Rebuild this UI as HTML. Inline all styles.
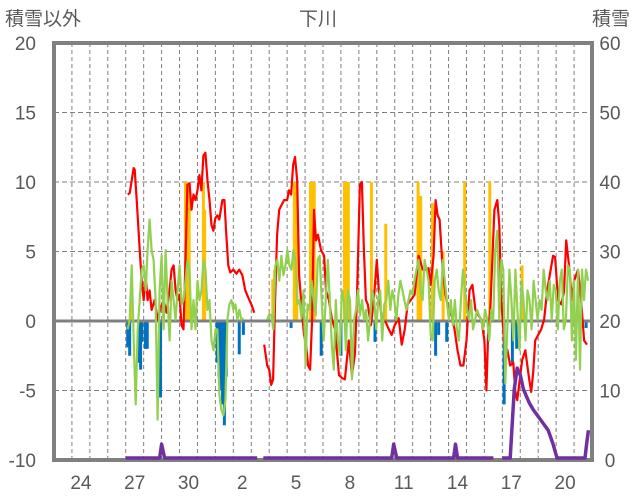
<!DOCTYPE html>
<html><head><meta charset="utf-8">
<style>
html,body{margin:0;padding:0;background:#fff;}
svg{display:block;font-family:"Liberation Sans","Noto Sans CJK JP",sans-serif;}
</style></head>
<body>
<svg id="chart" width="636" height="501" viewBox="0 0 636 501" xmlns="http://www.w3.org/2000/svg">
<text x="5" y="25" font-size="19" fill="#595959">積雪以外</text>
<text x="318" y="25" font-size="19" fill="#595959" text-anchor="middle">下川</text>
<text x="630" y="25" font-size="19" fill="#595959" text-anchor="end">積雪</text>
<g id="grid"></g>
<g id="bars"></g>
<g id="axes"></g>
<g id="lines"></g>
</svg>
<script>
// ---- data ----
const xTickLabels = ["24","27","30","2","5","8","11","14","17","20"];
const xTickDays = [1.5,4.5,7.5,10.5,13.5,16.5,19.5,22.5,25.5,28.5];
const leftTicks = [20,15,10,5,0,-5,-10];
const rightTicks = [60,50,40,30,20,10,0];

const redT1 = [4.11,4.22,4.33,4.44,4.5,4.61,4.78,4.89,5.0,5.11,5.22,5.33,5.44,5.61,5.78,5.94,6.11,6.28,6.44,6.56,6.67,6.78,6.89,7.0,7.11,7.22,7.33,7.44,7.56,7.67,7.78,7.89,8.0,8.11,8.22,8.33,8.44,8.56,8.67,8.78,8.89,9.0,9.11,9.22,9.39,9.5,9.61,9.72,9.83,10.0,10.17,10.33,10.5,10.67,10.83,11.0,11.17];
const redV1 = [9.1,9.2,10.1,11.0,10.9,8.7,5.1,2.9,1.5,3.3,1.5,2.2,0.8,1.5,0.1,0.9,1.5,0.6,2.2,3.7,4.0,2.2,1.5,1.9,-0.3,-0.6,4.4,9.8,9.9,8.0,9.1,8.7,9.4,10.5,9.4,11.9,12.1,10.1,8.7,6.9,6.5,7.4,7.6,7.3,8.7,8.7,6.2,4.0,3.5,3.7,3.4,3.7,3.3,2.2,1.7,1.2,0.6];
const redT2 = [11.72,11.89,12.0,12.11,12.22,12.33,12.44,12.56,12.67,12.83,13.0,13.11,13.22,13.33,13.44,13.56,13.67,13.78,13.94,14.06,14.17,14.28,14.39,14.5,14.61,14.72,14.89,15.06,15.17,15.33,15.5,15.67,15.89,16.06,16.22,16.44,16.61,16.78,16.89,17.06,17.17,17.28,17.39,17.5,17.67,17.83,18.0,18.11,18.28,18.5,18.67,18.83,19.0,19.22,19.39,19.56,19.72,19.89,20.11,20.33,20.56,20.72,20.89,21.0,21.17,21.28,21.39,21.5,21.67,21.83,22.0,22.17,22.33,22.5,22.67,22.83,23.0,23.17,23.33,23.5,23.67,23.83,24.0,24.11,24.22,24.33,24.56,24.72,24.83,24.94,25.11,25.28,25.44,25.61,25.72,25.83,26.0,26.11,26.28,26.5,26.61,26.72,26.83,27.0,27.17,27.33,27.5,27.67,27.83,27.94,28.11,28.28,28.44,28.56,28.72,28.89,29.0,29.22,29.39,29.56,29.72];
const redV2 = [-1.7,-3.2,-3.5,-4.6,-4.2,1.5,6.2,8.0,8.3,8.7,8.7,9.4,9.1,11.2,11.8,10.1,3.3,1.5,-1.0,-1.7,-3.2,-3.5,0.1,8.0,5.8,6.2,5.1,4.7,2.2,1.5,0.1,-0.6,-3.9,-4.1,-4.2,-1.4,-3.9,-2.4,1.5,9.8,10.0,5.1,1.5,1.2,-0.3,1.5,4.4,2.2,0.1,-0.1,-0.6,-1.0,-0.3,0.2,-1.7,-0.6,1.2,1.5,1.9,4.7,3.7,3.7,3.8,2.6,4.7,8.7,7.6,7.3,3.8,1.9,0.8,0.4,-0.6,-2.1,-3.2,-3.2,-1.4,2.2,2.6,0.8,0.4,0.1,-1.4,-5.0,-0.6,0.8,8.0,8.7,6.9,1.5,-1.7,-2.1,-3.2,-3.0,-5.0,-5.7,-3.9,-2.8,-2.1,-4.2,-5.1,-3.7,-1.4,-1.0,-0.6,0.1,2.2,3.5,4.7,4.6,1.5,1.2,2.1,5.8,4.0,1.5,2.9,3.7,1.5,-1.4,-1.7];

const greenStart1 = 4.11, greenEnd1 = 10.56;
const greenV1 = [-0.6,0.1,4.0,-1.4,-6.0,-0.6,1.5,3.7,4.0,2.2,5.1,7.3,5.1,4.4,1.5,-7.1,2.2,4.7,-0.6,5.1,1.5,-1.4,2.9,1.5,0.1,2.2,4.0,1.2,1.5,2.9,4.4,3.7,-0.6,1.5,-0.6,2.9,1.5,2.2,4.4,3.7,0.8,1.5,-1.4,-2.1,-0.6,-0.6,-5.3,-6.4,-6.8,-5.7,0.1,1.2,1.5,0.8,1.2,0.1,0.8,0.1,0.2];
const greenStart2 = 11.89, greenEnd2 = 29.78;
const greenV2 = [0.1,0.5,0.4,-0.6,4.0,4.4,2.9,4.7,3.3,4.0,5.1,4.0,3.7,5.1,4.4,1.2,1.5,0.2,2.2,-3.2,1.2,0.8,2.9,1.5,0.4,4.4,4.7,1.5,-1.4,1.5,4.4,1.5,-1.7,-3.5,1.5,-1.4,-2.4,2.2,1.5,-2.1,2.2,1.5,-4.2,0.1,0.8,2.2,0.4,1.5,0.1,0.8,-1.4,0.1,2.2,1.5,-0.6,1.5,2.2,-1.4,1.2,1.5,2.9,0.8,2.2,1.5,0.1,1.9,2.9,2.2,1.5,0.8,1.5,2.2,1.9,2.9,3.7,4.4,2.2,1.5,4.4,3.7,2.9,-1.0,-1.4,2.9,3.7,2.2,1.5,4.4,2.9,1.5,0.1,1.5,-0.3,1.5,-0.6,-1.4,1.5,3.7,2.2,0.8,0.1,1.5,-0.6,0.1,0.8,0.4,0.1,-0.6,0.8,0.1,-1.4,0.8,0.1,5.1,6.5,0.1,4.4,3.7,-4.5,-0.6,3.7,1.5,-1.4,3.7,0.8,-2.1,2.9,1.5,-1.4,2.2,1.5,-0.6,2.9,1.5,0.1,1.5,0.8,3.7,2.2,1.5,2.9,0.1,2.6,2.2,-0.6,2.9,3.7,-0.6,0.1,4.0,3.7,-1.4,2.9,-2.8,3.7,-3.5,3.7,1.5,3.7,2.9];

const snowT1 = [4.0,5.89,6.0,6.17,11.33];
const snowV1 = [0,0,2,0,0];
const snowT2 = [11.67,18.83,18.94,19.11,22.28,22.39,22.5,24.5];
const snowV2 = [0,0,2,0,0,2,0,0];
const snowT3 = [25.0,25.44,25.67,25.83,26.0,26.17,26.33,26.5,26.72,27.0,27.28,27.56,27.83,28.05,29.61,29.7,29.8];
const snowV3 = [0,0,10,13,12,10,9,8,7,6,5,4,2,0,0,2,4];

const precipT = [4.3,7.33,7.4,7.47,7.54,8.33,8.4,12.2,12.3,13.4,13.47,13.54,14.3,14.37,14.44,14.51,16.2,16.27,16.34,16.41,17.7,18.5,20.3,20.45,21.1,21.7,22.9,24.3,26.1];
const precipV = [2,10,10,10,9,10,8,3,3.7,10,10,10,10,10,10,10,10,10,10,10,10,7,10,9,8.5,5,10,10,4];

const negT = [4.11,4.22,4.72,4.83,4.9,5.1,5.2,5.94,9.1,9.2,9.3,9.4,9.5,9.6,10.33,10.56,13.22,14.9,16.0,17.9,18.3,21.28,21.45,21.9,25.1,25.56,25.8,29.67];
const negV = [-1.9,-2.5,-3.0,-3.5,-1.5,-2.0,-2.0,-5.5,-3.0,-4.0,-5.0,-6.0,-7.5,-4.0,-2.4,-1.0,-0.5,-2.5,-2.5,-1.5,-0.5,-2.5,-1.0,-1.5,-6.0,-3.0,-2.0,-0.5];

// ---- scales ----
const X0=54, X1=592, Y0=43, Y1=460, DAYS=30;
const xs = t => X0 + (X1-X0)*t/DAYS;
const yl = v => Y1 - (Y1-Y0)*(v+10)/30;
const yr = v => Y1 - 2 - (Y1-2-Y0)*v/60;
const NS="http://www.w3.org/2000/svg";
function mk(tag, attrs, parent){const e=document.createElementNS(NS,tag);for(const k in attrs)e.setAttribute(k,attrs[k]);parent.appendChild(e);return e;}

const grid=document.getElementById('grid'), bars=document.getElementById('bars'), lines=document.getElementById('lines'), axes=document.getElementById('axes');

for(let d=1; d<DAYS; d++){
  const l=mk('line',{x1:xs(d),x2:xs(d),y1:Y0,y2:Y1,stroke:'#7f7f7f','stroke-width':1,'stroke-dasharray':'4,3'},grid);
  
  
}
leftTicks.forEach(v=>{
  if(v===20||v===-10||v===0) return;
  const l=mk('line',{x1:X0,x2:X1,y1:yl(v),y2:yl(v),stroke:'#7f7f7f','stroke-width':1,'stroke-dasharray':'5,3'},grid);
  
  
});

precipT.forEach((t,i)=>{
  const y=yl(precipV[i]), y0=yl(0);
  const r=mk('rect',{x:xs(t)-1.5,y:y,width:3,height:y0-y,fill:'#FFC000'},bars);
  
  
});
negT.forEach((t,i)=>{
  const y0=yl(0), y=yl(negV[i]);
  const r=mk('rect',{x:xs(t)-1.5,y:y0,width:3,height:y-y0,fill:'#0070C0'},bars);
  
  
});

const z=mk('line',{x1:X0,x2:X1,y1:yl(0),y2:yl(0),stroke:'#808080','stroke-width':3},axes);


const f=mk('rect',{x:X0,y:Y0,width:X1-X0,height:Y1-Y0,fill:'none',stroke:'#808080','stroke-width':4},axes);



function poly(ts, vs, yf, color, w, name){
  const pts=ts.map((t,i)=>xs(t).toFixed(1)+','+yf(vs[i]).toFixed(1)).join(' ');
  const p=mk('polyline',{points:pts,fill:'none',stroke:color,'stroke-width':w,'stroke-linejoin':'round'},lines);
  
  
}
function spread(a,b,n){const r=[];for(let i=0;i<n;i++)r.push(a+(b-a)*i/(n-1));return r;}
poly(redT1,redV1,yl,'#FF0000',2.2,'red-series');
poly(redT2,redV2,yl,'#FF0000',2.2,'red-series');
poly(spread(greenStart1,greenEnd1,greenV1.length),greenV1,yl,'#92D050',2.2,'green-series');
poly(spread(greenStart2,greenEnd2,greenV2.length),greenV2,yl,'#92D050',2.2,'green-series');
poly(snowT1,snowV1,yr,'#7030A0',3.5,'snow-depth-line');
poly(snowT2,snowV2,yr,'#7030A0',3.5,'snow-depth-line');
poly(snowT3,snowV3,yr,'#7030A0',3.5,'snow-depth-line');

leftTicks.forEach(v=>{
  const t=mk('text',{x:36,y:yl(v)+7,'font-size':19,fill:'#595959','text-anchor':'end'},axes);
  t.textContent=v;
  
  
});
rightTicks.forEach(v=>{
  const t=mk('text',{x:610,y:Y1-(Y1-Y0)*v/60+7,'font-size':19,fill:'#595959','text-anchor':'middle'},axes);
  t.textContent=v;
  
  
});
xTickLabels.forEach((s,i)=>{
  const t=mk('text',{x:xs(xTickDays[i]),y:489,'font-size':19,fill:'#595959','text-anchor':'middle'},axes);
  t.textContent=s;
  
  
});
</script>
</body></html>
